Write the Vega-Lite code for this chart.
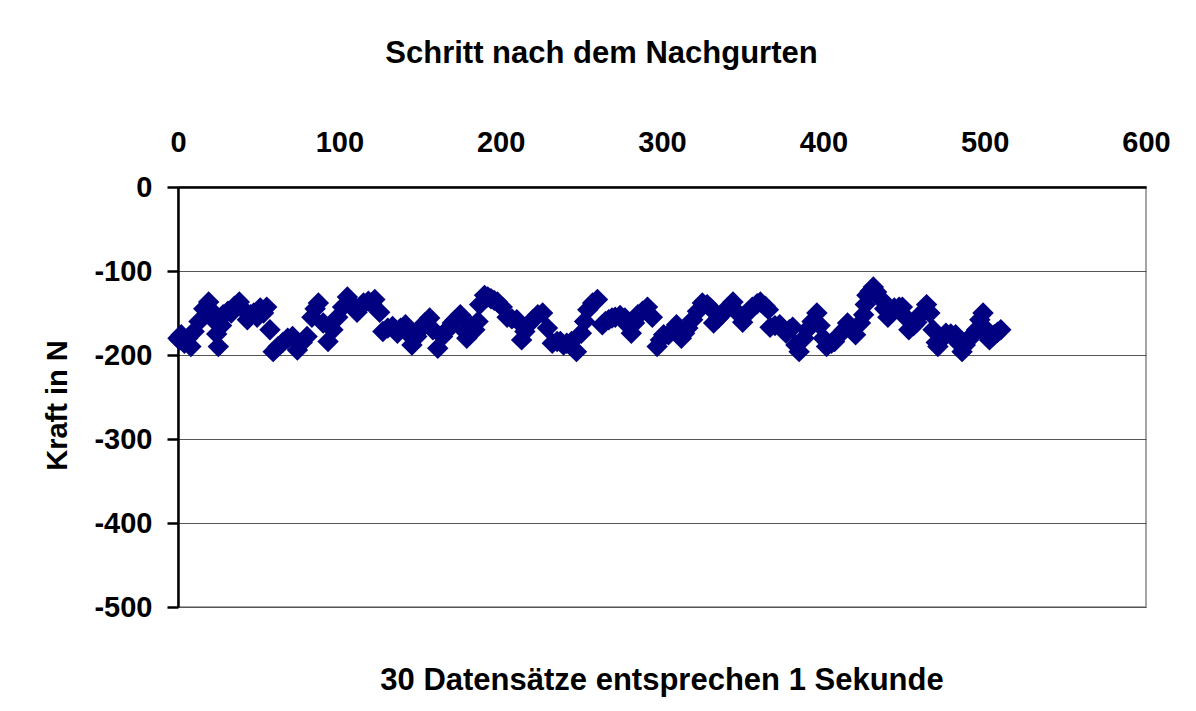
{
  "$schema": "https://vega.github.io/schema/vega-lite/v6.json",
  "width": 968,
  "height": 420,
  "autosize": {"type": "none"},
  "padding": {"left": 178, "top": 187, "right": 50, "bottom": 104},
  "background": "white",
  "title": {"text": "30 Datensätze entsprechen 1 Sekunde", "orient": "bottom", "anchor": "middle", "baseline": "alphabetic", "offset": 68, "font": "Liberation Sans", "fontSize": 31, "fontWeight": "bold", "color": "black"},
  "config": {"view": {"stroke": "#888888", "strokeWidth": 1.5}},
  "data": {"values": [
    {"schritt":0,"kraft":-180},{"schritt":1,"kraft":-182},{"schritt":2,"kraft":-176},{"schritt":4,"kraft":-186},{"schritt":6,"kraft":-180},{"schritt":8,"kraft":-190},{"schritt":10,"kraft":-172},{"schritt":13,"kraft":-160},{"schritt":16,"kraft":-145},{"schritt":19,"kraft":-137},{"schritt":21,"kraft":-148},{"schritt":22,"kraft":-158},{"schritt":24,"kraft":-175},{"schritt":25,"kraft":-190},{"schritt":27,"kraft":-165},{"schritt":28,"kraft":-152},{"schritt":31,"kraft":-148},{"schritt":33,"kraft":-150},{"schritt":35,"kraft":-142},{"schritt":38,"kraft":-137},{"schritt":40,"kraft":-145},{"schritt":43,"kraft":-158},{"schritt":45,"kraft":-152},{"schritt":47,"kraft":-150},{"schritt":49,"kraft":-155},{"schritt":51,"kraft":-144},{"schritt":53,"kraft":-150},{"schritt":55,"kraft":-143},{"schritt":57,"kraft":-170},{"schritt":59,"kraft":-196},{"schritt":62,"kraft":-190},{"schritt":65,"kraft":-185},{"schritt":68,"kraft":-180},{"schritt":71,"kraft":-178},{"schritt":74,"kraft":-194},{"schritt":77,"kraft":-185},{"schritt":80,"kraft":-178},{"schritt":83,"kraft":-155},{"schritt":85,"kraft":-145},{"schritt":87,"kraft":-138},{"schritt":90,"kraft":-162},{"schritt":93,"kraft":-184},{"schritt":96,"kraft":-170},{"schritt":99,"kraft":-155},{"schritt":102,"kraft":-143},{"schritt":105,"kraft":-131},{"schritt":108,"kraft":-140},{"schritt":111,"kraft":-149},{"schritt":113,"kraft":-143},{"schritt":115,"kraft":-138},{"schritt":118,"kraft":-136},{"schritt":120,"kraft":-138},{"schritt":122,"kraft":-134},{"schritt":125,"kraft":-149},{"schritt":127,"kraft":-172},{"schritt":130,"kraft":-168},{"schritt":133,"kraft":-166},{"schritt":136,"kraft":-174},{"schritt":138,"kraft":-168},{"schritt":141,"kraft":-164},{"schritt":143,"kraft":-175},{"schritt":145,"kraft":-188},{"schritt":148,"kraft":-178},{"schritt":150,"kraft":-170},{"schritt":153,"kraft":-162},{"schritt":156,"kraft":-156},{"schritt":158,"kraft":-170},{"schritt":161,"kraft":-192},{"schritt":164,"kraft":-178},{"schritt":166,"kraft":-172},{"schritt":168,"kraft":-168},{"schritt":170,"kraft":-162},{"schritt":172,"kraft":-158},{"schritt":175,"kraft":-152},{"schritt":178,"kraft":-172},{"schritt":179,"kraft":-180},{"schritt":181,"kraft":-164},{"schritt":184,"kraft":-170},{"schritt":186,"kraft":-160},{"schritt":187,"kraft":-140},{"schritt":190,"kraft":-129},{"schritt":192,"kraft":-131},{"schritt":194,"kraft":-133},{"schritt":196,"kraft":-135},{"schritt":198,"kraft":-137},{"schritt":201,"kraft":-143},{"schritt":204,"kraft":-155},{"schritt":207,"kraft":-157},{"schritt":210,"kraft":-158},{"schritt":213,"kraft":-182},{"schritt":215,"kraft":-172},{"schritt":217,"kraft":-164},{"schritt":220,"kraft":-158},{"schritt":223,"kraft":-152},{"schritt":226,"kraft":-150},{"schritt":229,"kraft":-168},{"schritt":232,"kraft":-186},{"schritt":235,"kraft":-184},{"schritt":237,"kraft":-184},{"schritt":239,"kraft":-188},{"schritt":241,"kraft":-186},{"schritt":244,"kraft":-184},{"schritt":247,"kraft":-196},{"schritt":250,"kraft":-174},{"schritt":252,"kraft":-160},{"schritt":254,"kraft":-146},{"schritt":257,"kraft":-138},{"schritt":260,"kraft":-134},{"schritt":263,"kraft":-164},{"schritt":265,"kraft":-160},{"schritt":267,"kraft":-158},{"schritt":269,"kraft":-156},{"schritt":271,"kraft":-155},{"schritt":274,"kraft":-153},{"schritt":277,"kraft":-156},{"schritt":279,"kraft":-165},{"schritt":281,"kraft":-174},{"schritt":283,"kraft":-162},{"schritt":285,"kraft":-152},{"schritt":288,"kraft":-148},{"schritt":291,"kraft":-143},{"schritt":294,"kraft":-155},{"schritt":297,"kraft":-190},{"schritt":299,"kraft":-182},{"schritt":301,"kraft":-176},{"schritt":304,"kraft":-176},{"schritt":307,"kraft":-170},{"schritt":309,"kraft":-164},{"schritt":312,"kraft":-180},{"schritt":314,"kraft":-174},{"schritt":316,"kraft":-168},{"schritt":319,"kraft":-158},{"schritt":322,"kraft":-148},{"schritt":325,"kraft":-138},{"schritt":328,"kraft":-140},{"schritt":330,"kraft":-144},{"schritt":332,"kraft":-162},{"schritt":335,"kraft":-156},{"schritt":338,"kraft":-150},{"schritt":341,"kraft":-143},{"schritt":344,"kraft":-137},{"schritt":347,"kraft":-150},{"schritt":350,"kraft":-161},{"schritt":353,"kraft":-150},{"schritt":356,"kraft":-143},{"schritt":359,"kraft":-139},{"schritt":361,"kraft":-137},{"schritt":364,"kraft":-142},{"schritt":366,"kraft":-146},{"schritt":367,"kraft":-167},{"schritt":370,"kraft":-165},{"schritt":373,"kraft":-164},{"schritt":375,"kraft":-170},{"schritt":377,"kraft":-174},{"schritt":379,"kraft":-170},{"schritt":381,"kraft":-167},{"schritt":383,"kraft":-188},{"schritt":385,"kraft":-196},{"schritt":388,"kraft":-180},{"schritt":390,"kraft":-170},{"schritt":393,"kraft":-160},{"schritt":396,"kraft":-150},{"schritt":398,"kraft":-165},{"schritt":400,"kraft":-180},{"schritt":402,"kraft":-190},{"schritt":405,"kraft":-186},{"schritt":407,"kraft":-184},{"schritt":410,"kraft":-176},{"schritt":413,"kraft":-170},{"schritt":415,"kraft":-162},{"schritt":418,"kraft":-170},{"schritt":420,"kraft":-176},{"schritt":423,"kraft":-162},{"schritt":425,"kraft":-152},{"schritt":426,"kraft":-140},{"schritt":427,"kraft":-129},{"schritt":429,"kraft":-124},{"schritt":431,"kraft":-119},{"schritt":433,"kraft":-125},{"schritt":436,"kraft":-134},{"schritt":438,"kraft":-145},{"schritt":440,"kraft":-155},{"schritt":442,"kraft":-148},{"schritt":444,"kraft":-144},{"schritt":447,"kraft":-143},{"schritt":449,"kraft":-143},{"schritt":451,"kraft":-155},{"schritt":453,"kraft":-170},{"schritt":456,"kraft":-165},{"schritt":458,"kraft":-161},{"schritt":461,"kraft":-150},{"schritt":464,"kraft":-140},{"schritt":466,"kraft":-150},{"schritt":468,"kraft":-170},{"schritt":470,"kraft":-185},{"schritt":471,"kraft":-190},{"schritt":474,"kraft":-180},{"schritt":476,"kraft":-174},{"schritt":479,"kraft":-175},{"schritt":482,"kraft":-176},{"schritt":484,"kraft":-186},{"schritt":486,"kraft":-196},{"schritt":488,"kraft":-188},{"schritt":490,"kraft":-182},{"schritt":493,"kraft":-175},{"schritt":495,"kraft":-170},{"schritt":497,"kraft":-158},{"schritt":499,"kraft":-150},{"schritt":500,"kraft":-168},{"schritt":502,"kraft":-178},{"schritt":503,"kraft":-182},{"schritt":506,"kraft":-176},{"schritt":508,"kraft":-173},{"schritt":510,"kraft":-170}
  ]},
  "mark": {"type": "point", "shape": "diamond", "filled": true, "size": 460, "color": "#000080", "opacity": 1},
  "encoding": {
    "x": {
      "field": "schritt", "type": "quantitative",
      "scale": {"domain": [0, 600], "nice": false, "zero": false},
      "axis": {
        "orient": "top", "values": [0, 100, 200, 300, 400, 500, 600],
        "title": "Schritt nach dem Nachgurten", "titleX": 423, "titleY": -125, "titleBaseline": "alphabetic", "titleAlign": "center",
        "titleFont": "Liberation Sans", "titleFontSize": 31, "titleFontWeight": "bold", "titleColor": "black",
        "ticks": false, "tickSize": 0, "grid": false,
        "domainColor": "black", "domainWidth": 2.5,
        "labelFont": "Liberation Sans", "labelFontSize": 29, "labelFontWeight": "bold", "labelColor": "black",
        "labelBaseline": "alphabetic", "labelPadding": 36, "labelFlush": false, "labelOverlap": false,
        "labelExpr": "toString(datum.value)"
      }
    },
    "y": {
      "field": "kraft", "type": "quantitative",
      "scale": {"domain": [-500, 0], "nice": false, "zero": false},
      "axis": {
        "values": [-500, -400, -300, -200, -100, 0],
        "title": "Kraft in N", "titleX": -112, "titleY": 218, "titleBaseline": "alphabetic", "titleAngle": -90, "titleAlign": "center",
        "titleFont": "Liberation Sans", "titleFontSize": 29, "titleFontWeight": "bold", "titleColor": "black",
        "grid": true, "gridColor": "#555555", "gridWidth": 1,
        "tickColor": "black", "tickSize": 11, "tickWidth": 2.5,
        "domainColor": "black", "domainWidth": 2.5,
        "labelFont": "Liberation Sans", "labelFontSize": 29, "labelFontWeight": "bold", "labelColor": "black",
        "labelPadding": 15, "labelFlush": false, "labelOverlap": false,
        "labelExpr": "toString(datum.value)"
      }
    }
  }
}
